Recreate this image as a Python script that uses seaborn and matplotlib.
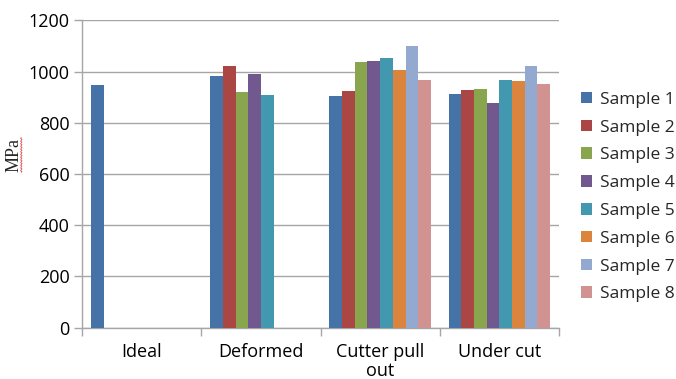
import numpy as np
import pandas as pd
import seaborn as sns
import matplotlib.pyplot as plt
from matplotlib.ticker import FixedLocator, MultipleLocator

categories = ["Ideal", "Deformed", "Cutter pull\nout", "Under cut"]
samples = [f"Sample {i}" for i in range(1, 9)]

ideal = [947, np.nan, np.nan, np.nan, np.nan, np.nan, np.nan, np.nan]
deformed = [981, 1021, 919, 990, 909, np.nan, np.nan, np.nan]
cutter_pull_out = [903, 923, 1036, 1041, 1051, 1005, 1101, 967]
under_cut = [911, 929, 932, 878, 967, 964, 1023, 951]

colors = ["#4572A7", "#AA4643", "#89A54E", "#71588F",
          "#4198AF", "#DB843D", "#93A9CF", "#D19392"]

rows = []
for cat, vals in zip(categories, [ideal, deformed, cutter_pull_out, under_cut]):
    for s, v in zip(samples, vals):
        rows.append({"category": cat, "sample": s, "MPa": v})
df = pd.DataFrame(rows)

sns.set_theme(style="white")
plt.rcParams["font.family"] = ["Open Sans", "DejaVu Sans"]

fig = plt.figure(figsize=(6.76, 3.79), dpi=100)
ax = fig.add_axes([0.1213, 0.1354, 0.7057, 0.811])

sns.barplot(data=df, x="category", y="MPa", hue="sample",
            order=categories, hue_order=samples, palette=colors,
            saturation=1, width=0.85, dodge=True, errorbar=None,
            linewidth=0, ax=ax, zorder=3)

grid_c = "#a6a6a6"
ax.set_ylim(0, 1200)
ax.set_xlim(-0.5, 3.5)
ax.yaxis.set_major_locator(MultipleLocator(200))
ax.yaxis.grid(True, color=grid_c, linewidth=1.0, zorder=0)
ax.set_axisbelow(True)

for side in ["top", "right"]:
    ax.spines[side].set_visible(False)
for side in ["left", "bottom"]:
    ax.spines[side].set_color(grid_c)
    ax.spines[side].set_linewidth(1.0)

ax.tick_params(axis="y", which="major", left=True, length=6, width=1,
               color=grid_c, labelsize=13, pad=3, labelcolor="#000000")
ax.tick_params(axis="x", which="major", bottom=False, labelsize=13,
               pad=5, labelcolor="#000000")
ax.xaxis.set_minor_locator(FixedLocator([-0.5, 0.5, 1.5, 2.5, 3.5]))
ax.tick_params(axis="x", which="minor", bottom=True, length=6, width=1,
               color=grid_c)
for lab in ax.get_xticklabels():
    lab.set_linespacing(1.05)

ax.set_xlabel("")
ax.set_ylabel("")
fig.text(0.021, 0.591, "MPa", rotation=90, ha="center", va="center",
         fontsize=13, family=["Liberation Serif", "DejaVu Serif"])

# spell-check squiggle beside the axis title
yy = np.linspace(0.545, 0.637, 40)
xx = 0.0315 + 0.0012 * np.sin(np.arange(40) * np.pi / 1.5)
fig.add_artist(plt.Line2D(xx, yy, color="#e05050", linewidth=0.6,
                          transform=fig.transFigure))

ax.legend(title=None, frameon=False, loc="upper left",
          bbox_to_anchor=(0.859, 0.758), bbox_transform=fig.transFigure,
          fontsize=12.5, handlelength=0.65, handleheight=0.65,
          handletextpad=0.45, labelspacing=0.68, borderaxespad=0,
          borderpad=0)

fig.savefig("out.png", dpi=100)
